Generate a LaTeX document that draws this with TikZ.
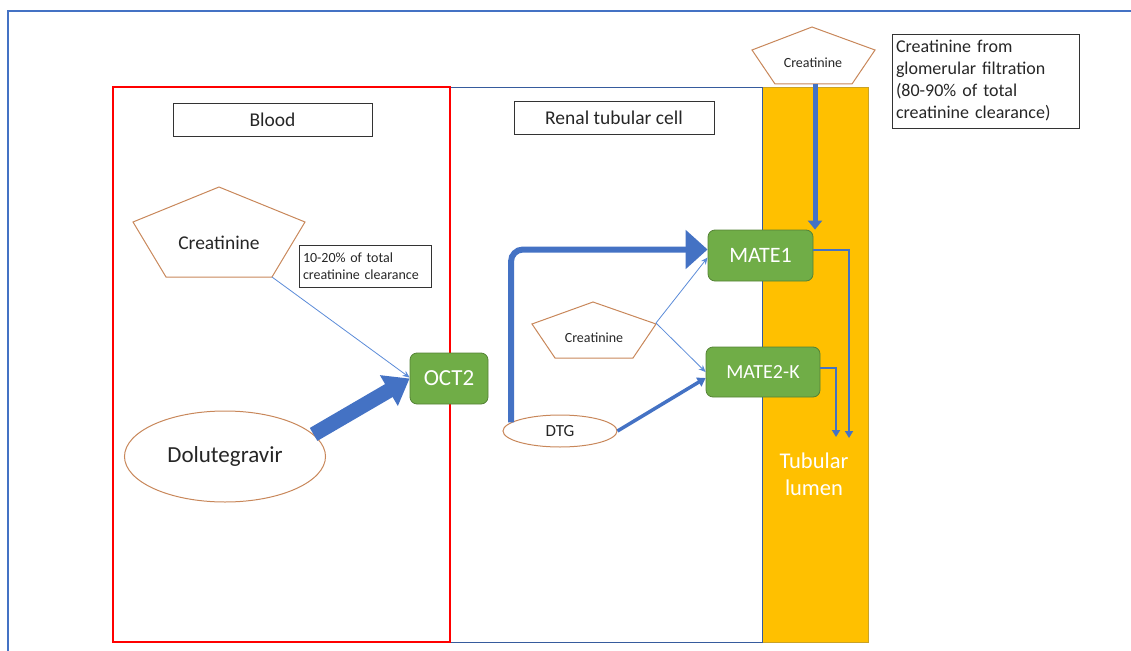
\documentclass[tikz,border=0pt]{standalone}
\usepackage{fontspec}
\setmainfont{Carlito}
\usetikzlibrary{shapes.geometric,arrows.meta,calc}
\definecolor{frameblue}{HTML}{4472C4}
\definecolor{arrowblue}{HTML}{4472C4}
\definecolor{thinblue}{HTML}{5B8BD8}
\definecolor{tgreen}{HTML}{70AD47}
\definecolor{tgreenb}{HTML}{548235}
\definecolor{lumen}{HTML}{FFC000}
\definecolor{lumenb}{HTML}{C9A227}
\definecolor{penta}{HTML}{C8875A}
\definecolor{txt}{HTML}{262626}
\newcommand{\fs}[2]{\fontsize{#1}{#2}\selectfont}
\tikzset{
  labelbox/.style={draw=black!80, line width=0.9pt, text=txt, inner sep=0pt},
  transporter/.style={draw=tgreenb, line width=0.8pt, fill=tgreen, rounded corners=7pt, text=white, inner sep=0pt},
  pentaline/.style={draw=penta, line width=1pt, line join=miter},
  drug/.style={ellipse, draw=penta, line width=1pt, text=txt, inner sep=0pt},
  thinarrow/.style={draw=thinblue, line width=0.8pt, -{Stealth[length=7pt,width=6pt]}},
  fatarrow/.style={draw=arrowblue, line width=15pt, -{Triangle[length=24pt,width=34pt]}},
  elbowarrow/.style={draw=arrowblue, line width=6pt, rounded corners=12pt, -{Triangle[length=22pt,width=38pt]}},
  midarrow/.style={draw=arrowblue, line width=3.5pt, -{Triangle[length=8pt,width=10pt]}},
  downarrow/.style={draw=arrowblue, line width=5pt, -{Triangle[length=9pt,width=14pt]}},
  outarrow/.style={draw=arrowblue, line width=2pt, -{Triangle[length=7pt,width=8pt]}},
}
\begin{document}
\begin{tikzpicture}[x=1pt,y=-1pt]
\useasboundingbox (0,0) rectangle (1131,650);
% outer frame
\draw[frameblue, line width=2.5pt] (8,652) -- (8,11) -- (1133,11);
% compartments
\draw[lumenb, line width=0.8pt, fill=lumen] (762,87) rectangle (868,642);
\draw[frameblue!80!black, line width=0.7pt] (450,87) rectangle (762,642);
\draw[red, line width=1.8pt] (113,87) rectangle (450,642);
% labels
\node[labelbox, minimum width=199pt, minimum height=33pt, font=\fs{19.5}{22}] (blood) at (272.5,119.5) {Blood};
\node[labelbox, minimum width=200pt, minimum height=33pt, font=\fs{19.5}{22}] (cell) at (614,117.5) {Renal tubular cell};
\node[labelbox, minimum width=132pt, minimum height=42pt, font=\fs{14}{17}, align=left, text width=124pt] (pct) at (365,266) {10-20\% of total\\creatinine clearance};
\node[labelbox, minimum width=187pt, minimum height=94pt, font=\fs{18}{22}, align=left, text width=179pt] (gf) at (985.5,81) {Creatinine from\\glomerular filtration\\(80-90\% of total\\creatinine clearance)};
% pentagons
\draw[pentaline] (219,187) -- (305,222) -- (272,277) -- (166,277) -- (133,222) -- cycle;
\node[text=txt, font=\fs{19.5}{22}] (crb) at (219,243) {Creatinine};
\coordinate (crbv) at (272,277);
\draw[pentaline] (593,302) -- (656,324) -- (633,358) -- (555,358) -- (532,324) -- cycle;
\node[text=txt, font=\fs{14}{16}] (crc) at (594,338) {Creatinine};
\coordinate (crcv) at (656,323);
\draw[pentaline, fill=white] (812,27) -- (875,50) -- (852,84) -- (775,84) -- (752,50) -- cycle;
\node[text=txt, font=\fs{14}{16}] (crt) at (813,63) {Creatinine};
\coordinate (crtv) at (815,84);
% drugs
\node[drug, minimum width=201pt, minimum height=91pt, font=\fs{23}{26}] (dol) at (225,456.5) {Dolutegravir};
\node[drug, minimum width=114pt, minimum height=32pt, font=\fs{17}{19}] (dtg) at (560,431) {DTG};
% transporters
\node[transporter, minimum width=78pt, minimum height=51pt, font=\fs{23}{26}] (oct) at (449,378.5) {OCT2};
\node[transporter, minimum width=105pt, minimum height=51pt, font=\fs{22}{25}] (mate1) at (760.5,255.5) {MATE1};
\node[transporter, minimum width=114pt, minimum height=50pt, font=\fs{20}{23}] (mate2) at (763,372) {MATE2-K};
% connectors
\draw[thinarrow] (crbv) -- ([yshift=1pt]oct.west);
\draw[fatarrow] (dol.14) -- (oct.west);
\draw[elbowarrow] (dtg.170) |- ([yshift=6pt]mate1.west);
\draw[thinarrow] (crcv) -- ([yshift=-2pt]mate1.west);
\draw[thinarrow] (crcv) -- (mate2.west);
\draw[midarrow] (dtg.east) -- ([yshift=-6pt]mate2.west);
\draw[downarrow] (crtv) -- (crtv |- mate1.north);
\coordinate (out1) at (849,438);
\coordinate (out2) at (836,437);
\draw[outarrow] ([yshift=6pt]mate1.east) -| (out1);
\draw[outarrow] ([yshift=4pt]mate2.east) -| (out2);
% lumen label
\node[text=white, font=\fs{22.5}{27}, align=center] (lum) at (814,474) {Tubular\\lumen};
\end{tikzpicture}
\end{document}
